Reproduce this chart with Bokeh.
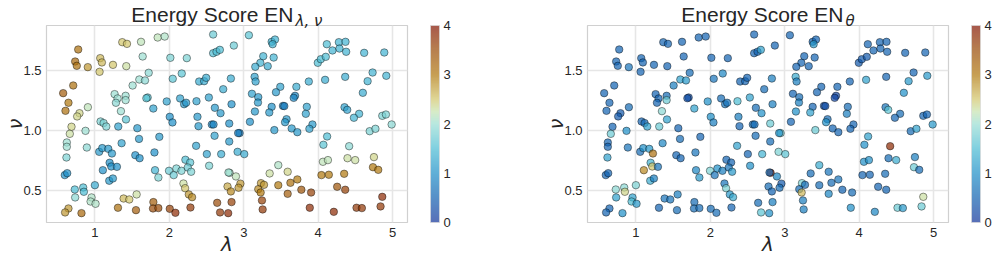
import math
from bokeh.plotting import figure
from bokeh.models import (ColumnDataSource, LinearColorMapper, ColorBar, FixedTicker,
                          Range1d, PrintfTickFormatter)
from bokeh.layouts import row
from bokeh.embed import file_html
from bokeh.resources import INLINE

# ---------------- data ----------------
lam = [
    0.776, 0.735, 0.757, 0.905, 1.072, 1.094, 1.063, 1.243, 1.422, 1.368,
    1.431, 1.620, 1.642, 1.844, 1.938, 2.589, 2.014, 2.235, 2.589, 2.634,
    2.679, 1.723, 1.597, 1.673, 1.507, 1.265, 1.413, 1.305, 1.413, 1.283,
    2.046, 2.167, 2.401, 2.468, 2.495, 2.724, 1.709, 1.692, 1.965, 2.145,
    2.199, 2.226, 2.365, 2.531, 2.612, 2.688, 0.906, 0.574, 0.709, 0.645,
    0.605, 0.793, 0.762, 1.350, 1.418, 1.076, 1.117, 1.153, 2.006, 2.042,
    2.378, 2.571, 2.594, 0.686, 1.785,
    3.069, 2.867, 3.375, 3.420, 3.388, 3.262, 3.402, 3.223, 3.155, 3.322,
    2.827, 3.146, 3.159, 3.110, 3.195, 3.191, 2.836, 3.150, 3.491, 3.433,
    3.707, 3.874, 3.689, 3.671, 3.375, 3.527, 3.545, 3.343, 3.847, 3.834,
    3.575, 3.555, 3.923, 2.805, 3.083, 3.995, 4.035, 4.102, 4.116, 4.192,
    4.278, 4.367, 4.286, 4.376, 4.618, 4.888, 4.093, 4.363, 4.731, 4.664,
    4.915, 4.600, 4.354, 4.390, 4.550, 4.480, 4.861, 4.910, 4.987,
    0.663, 0.874, 1.314, 1.570, 1.866, 1.593, 1.359, 0.623, 0.623, 0.892,
    1.058, 1.099, 1.180, 1.229, 0.618, 1.543, 1.601, 1.800, 1.198, 1.220,
    1.296, 1.107, 1.193, 1.242, 0.596, 0.628, 0.730, 0.843, 0.852, 0.735,
    1.000, 0.955, 0.942, 1.009, 0.645, 0.600, 0.820, 1.386, 1.462, 1.561,
    1.310, 1.552, 1.786, 1.781, 1.853, 2.006, 2.082, 2.284, 1.808, 1.853,
    1.996, 2.059, 2.095, 2.163, 2.216, 2.280, 2.248, 2.293, 2.535, 2.504,
    2.360, 2.697, 2.608, 2.392, 2.190, 2.212, 2.262, 2.306, 2.643, 2.682,
    2.944, 2.925, 3.411, 3.644, 3.720, 3.882, 2.805, 2.917, 3.007, 2.810,
    2.795, 2.895, 2.782, 2.827, 2.955, 2.930, 2.836, 2.791, 3.231, 3.272,
    3.195, 3.227, 3.245, 3.254, 3.348, 3.464, 3.590, 3.464, 3.627, 3.720,
    3.590, 3.774, 3.905, 3.887, 4.120, 4.070, 4.416, 4.064, 4.131, 4.394,
    4.497, 4.749, 4.736, 4.807, 4.044, 4.143, 4.349, 4.255, 4.363, 4.210,
    4.515, 4.587, 4.838, 4.861, 4.692, 4.769,
]
nu = [
    1.675, 1.575, 1.539, 1.528, 1.603, 1.567, 1.489, 1.547, 1.536, 1.736,
    1.722, 1.739, 1.617, 1.775, 1.783, 1.800, 1.606, 1.603, 1.644, 1.656,
    1.672, 1.481, 1.425, 1.417, 1.375, 1.303, 1.289, 1.267, 1.253, 1.231,
    1.431, 1.475, 1.408, 1.411, 1.439, 1.344, 1.275, 1.269, 1.242, 1.267,
    1.219, 1.231, 1.244, 1.275, 1.189, 1.144, 1.194, 1.311, 1.375, 1.231,
    1.164, 1.144, 1.117, 1.161, 1.092, 1.075, 1.062, 1.033, 1.114, 1.067,
    1.114, 1.050, 1.050, 1.031, 1.183,
    1.794, 1.708, 1.739, 1.758, 1.719, 1.619, 1.608, 1.564, 1.531, 1.536,
    1.433, 1.447, 1.408, 1.306, 1.278, 1.233, 1.219, 1.158, 1.364, 1.319,
    1.364, 1.408, 1.289, 1.272, 1.197, 1.205, 1.203, 1.150, 1.197, 1.139,
    1.094, 1.069, 1.050, 1.058, 1.072, 1.564, 1.594, 1.614, 1.719, 1.667,
    1.736, 1.739, 1.683, 1.656, 1.647, 1.650, 1.422, 1.447, 1.483, 1.411,
    1.456, 1.314, 1.194, 1.172, 1.139, 1.106, 1.122, 1.133, 1.050,
    0.972, 0.997, 1.033, 1.019, 0.947, 0.930, 0.894, 0.900, 0.864, 0.858,
    0.822, 0.853, 0.847, 0.808, 0.775, 0.794, 0.769, 0.817, 0.731, 0.700,
    0.697, 0.669, 0.581, 0.600, 0.628, 0.644, 0.508, 0.525, 0.489, 0.442,
    0.544, 0.442, 0.408, 0.389, 0.350, 0.317, 0.311, 0.433, 0.425, 0.467,
    0.356, 0.336, 0.403, 0.350, 0.353, 0.347, 0.314, 0.358, 0.669, 0.608,
    0.664, 0.628, 0.683, 0.664, 0.756, 0.733, 0.692, 0.656, 0.706, 0.803,
    0.872, 0.803, 0.956, 1.036, 0.558, 0.519, 0.467, 0.444, 0.397, 0.317,
    0.978, 0.978, 1.003, 1.017, 0.986, 1.014, 0.908, 0.822, 0.803, 0.647,
    0.650, 0.617, 0.533, 0.492, 0.557, 0.523, 0.403, 0.311, 0.561, 0.547,
    0.511, 0.483, 0.417, 0.342, 0.642, 0.711, 0.656, 0.544, 0.564, 0.592,
    0.472, 0.506, 0.483, 0.356, 0.950, 0.881, 0.869, 0.739, 0.753, 0.769,
    0.753, 0.778, 0.694, 0.672, 0.628, 0.631, 0.639, 0.531, 0.506, 0.322,
    0.356, 0.353, 0.367, 0.447, 0.994, 1.014,
]
en_lam_nu = [
    3.1, 3.2, 3.1, 2.8, 2.6, 2.6, 2.5, 2.5, 2.3, 2.5,
    2.5, 2.2, 2.0, 2.2, 2.1, 1.7, 1.8, 1.8, 1.5, 1.5,
    1.5, 1.9, 2.0, 1.9, 2.0, 2.0, 2.0, 2.0, 2.0, 1.9,
    1.6, 1.6, 1.3, 1.3, 1.3, 1.3, 1.6, 1.6, 1.2, 1.2,
    1.1, 1.1, 1.2, 1.2, 1.1, 1.1, 2.2, 3.3, 3.1, 3.0,
    3.1, 2.4, 2.4, 2.0, 1.6, 1.8, 1.8, 1.8, 1.0, 1.0,
    1.1, 0.9, 0.9, 2.4, 1.2,
    1.6, 1.7, 1.4, 1.4, 1.4, 1.4, 1.4, 1.4, 1.3, 1.3,
    1.3, 1.2, 1.2, 1.2, 1.1, 1.1, 1.0, 1.1, 1.2, 1.1,
    1.3, 1.3, 0.9, 0.9, 1.0, 0.8, 0.8, 1.1, 1.2, 1.2,
    1.1, 1.1, 1.1, 1.0, 1.0, 1.5, 1.5, 1.5, 1.5, 1.4,
    1.4, 1.4, 1.4, 1.4, 1.4, 1.4, 1.3, 1.3, 1.4, 1.4,
    1.4, 1.3, 1.2, 1.2, 1.4, 1.4, 1.8, 1.8, 1.9,
    2.3, 2.0, 1.2, 1.1, 1.1, 1.1, 1.2, 2.0, 2.0, 1.9,
    1.1, 1.1, 1.1, 1.1, 1.8, 1.0, 1.0, 1.0, 1.0, 1.0,
    1.0, 1.0, 1.1, 1.1, 1.0, 1.0, 1.5, 1.5, 1.5, 1.9,
    1.3, 2.1, 2.1, 2.1, 2.8, 2.8, 3.2, 2.6, 2.5, 2.3,
    3.1, 3.3, 3.3, 3.5, 3.5, 3.6, 3.8, 3.7, 1.4, 1.8,
    1.7, 1.7, 1.8, 1.8, 1.5, 1.6, 1.7, 1.8, 1.8, 1.2,
    1.2, 1.3, 1.2, 1.1, 2.3, 2.5, 2.8, 2.9, 3.5, 3.7,
    0.8, 0.8, 1.1, 1.1, 1.1, 1.2, 1.1, 1.3, 1.3, 2.1,
    2.0, 2.2, 2.7, 2.9, 2.8, 2.8, 3.6, 3.8, 2.8, 2.8,
    2.9, 3.0, 3.6, 3.7, 2.3, 2.1, 2.4, 3.0, 3.1, 3.0,
    3.3, 3.4, 3.6, 3.8, 1.5, 1.6, 1.9, 2.2, 2.2, 2.3,
    2.3, 2.4, 3.0, 3.0, 3.0, 3.0, 3.0, 3.4, 3.6, 3.8,
    3.7, 3.7, 3.7, 3.8, 1.8, 1.8,
]
en_theta = [
    0.5, 0.5, 0.5, 0.7, 0.5, 0.5, 0.5, 0.5, 0.5, 0.5,
    0.5, 0.5, 0.5, 0.5, 0.5, 0.5, 0.5, 0.5, 0.5, 0.5,
    1.2, 0.6, 1.2, 1.1, 0.8, 0.5, 0.6, 0.5, 1.7, 0.5,
    0.7, 0.9, 0.5, 0.5, 0.5, 0.6, 0.3, 0.3, 1.0, 0.6,
    0.7, 0.7, 1.5, 1.2, 0.6, 1.0, 0.6, 0.5, 0.5, 0.5,
    0.5, 0.4, 0.4, 1.9, 1.2, 0.5, 0.6, 1.2, 1.0, 0.8,
    0.8, 0.6, 0.6, 0.5, 1.2,
    0.5, 0.5, 0.5, 0.5, 1.1, 0.5, 0.5, 0.5, 0.5, 0.5,
    0.8, 1.3, 0.8, 0.5, 0.6, 0.8, 0.8, 1.0, 0.5, 0.5,
    0.5, 0.5, 0.2, 0.2, 0.5, 0.3, 0.3, 1.2, 0.6, 0.8,
    0.6, 1.0, 0.5, 1.7, 0.5, 0.4, 0.4, 0.4, 0.5, 0.5,
    0.5, 0.5, 0.5, 0.5, 0.5, 0.5, 1.2, 0.5, 0.5, 1.1,
    1.1, 1.0, 0.7, 1.6, 0.6, 0.5, 0.5, 0.5, 1.1,
    1.7, 1.0, 1.7, 0.5, 0.5, 0.6, 0.9, 0.5, 0.5, 0.7,
    0.6, 1.0, 1.1, 3.1, 1.2, 0.5, 0.5, 0.7, 1.4, 2.5,
    0.7, 2.9, 1.3, 0.8, 0.5, 0.5, 1.9, 1.9, 2.4, 1.2,
    1.8, 1.2, 1.5, 1.1, 0.5, 0.5, 1.0, 0.7, 0.7, 0.8,
    0.5, 0.6, 0.6, 0.6, 0.6, 0.6, 0.6, 0.5, 0.9, 1.1,
    1.8, 0.7, 1.0, 0.8, 0.5, 0.5, 0.7, 1.1, 1.0, 0.5,
    1.2, 1.4, 0.6, 0.5, 0.7, 1.8, 1.1, 1.3, 0.6, 1.6,
    1.8, 1.0, 1.7, 0.5, 0.5, 0.5, 0.6, 1.8, 1.6, 3.9,
    0.6, 0.9, 0.6, 0.5, 0.4, 0.6, 0.8, 1.0, 1.8, 0.6,
    0.6, 2.6, 0.8, 0.8, 0.6, 1.3, 0.7, 0.6, 0.6, 0.7,
    0.9, 0.5, 0.6, 1.0, 1.2, 1.0, 3.8, 1.0, 1.0, 0.6,
    1.3, 0.8, 1.7, 0.6, 0.5, 0.5, 0.6, 0.5, 0.5, 0.9,
    1.7, 1.1, 1.7, 2.3, 0.6, 1.2,
]

x_ticks = [1, 2, 3, 4, 5]
y_ticks = [0.5, 1.0, 1.5]
cbar_ticks = [0, 1, 2, 3, 4]
titles = [("Energy Score EN", "λ, ν"), ("Energy Score EN", "θ")]
x_label = "λ"
y_label = "ν"

# ---------------- colour map (roma-like, reversed) ----------------
anchors = [
    (0.0, (16, 51, 154)), (0.5, (16, 97, 176)), (1.0, (28, 142, 199)),
    (1.5, (74, 188, 211)), (2.0, (154, 222, 211)), (2.25, (199, 228, 176)),
    (2.5, (211, 199, 108)), (3.0, (176, 119, 12)), (3.5, (153, 74, 5)),
    (4.0, (131, 19, 0)),
]


def build_palette(n=256):
    pal = []
    for i in range(n):
        v = 4.0 * i / (n - 1)
        for (v0, c0), (v1, c1) in zip(anchors[:-1], anchors[1:]):
            if v0 <= v <= v1:
                t = (v - v0) / (v1 - v0)
                c = [round(a + (b - a) * t) for a, b in zip(c0, c1)]
                pal.append("#%02x%02x%02x" % tuple(c))
                break
    return pal


palette = build_palette()
TXT = "#262626"
FONT = "Liberation Sans"
MATH = "DejaVu Sans"


def make_panel(values, title_main, title_sub, main_x, left_border, right_border):
    src = ColumnDataSource(dict(lam=lam, nu=nu, en=values))
    mapper = LinearColorMapper(palette=palette, low=0, high=4)
    p = figure(frame_width=361, frame_height=197, output_backend="svg",
               toolbar_location=None, x_range=Range1d(0.35, 5.2),
               y_range=Range1d(0.233, 1.875), min_border_left=left_border,
               min_border_right=right_border, min_border_top=25,
               min_border_bottom=10, background_fill_color="white")
    p.outline_line_color = "#d0d0d0"
    p.outline_line_width = 1.2

    p.title.text = title_main
    p.title.align = "right"
    p.title.offset = 361 - main_x
    p.title.standoff = 0
    p.title.vertical_align = "bottom"
    p.title.text_font = FONT
    p.title.text_font_size = "21px"
    p.title.text_font_style = "normal"
    p.title.text_color = TXT

    for ax in (p.xaxis[0], p.yaxis[0]):
        ax.axis_line_color = None
        ax.major_tick_line_color = None
        ax.minor_tick_line_color = None
        ax.major_tick_out = 0
        ax.major_tick_in = 0
        ax.major_label_standoff = 5
        ax.major_label_text_font = FONT
        ax.major_label_text_font_size = "13px"
        ax.major_label_text_color = TXT
        ax.axis_label_text_font = MATH
        ax.axis_label_text_font_style = "italic"
        ax.axis_label_text_color = TXT
    p.xaxis.axis_label = x_label
    p.yaxis.axis_label = y_label
    p.xaxis.axis_label_text_font_size = "20px"
    p.yaxis.axis_label_text_font_size = "19px"
    p.xaxis.axis_label_standoff = -8
    p.yaxis.axis_label_standoff = -6
    p.xaxis.ticker = FixedTicker(ticks=x_ticks)
    p.yaxis.ticker = FixedTicker(ticks=y_ticks)
    p.yaxis.formatter = PrintfTickFormatter(format="%.1f")
    p.xgrid.ticker = FixedTicker(ticks=x_ticks)
    p.ygrid.ticker = FixedTicker(ticks=y_ticks)
    for g in (p.xgrid[0], p.ygrid[0]):
        g.grid_line_color = "#e6e6e6"
        g.grid_line_width = 1.6

    p.scatter("lam", "nu", source=src, size=7.5,
              fill_color={"field": "en", "transform": mapper}, fill_alpha=0.7,
              line_color="black", line_alpha=0.7, line_width=0.6)

    cb = ColorBar(color_mapper=mapper, width=9, height=197, padding=0, margin=0,
                  location=(384, 0),
                  ticker=FixedTicker(ticks=cbar_ticks), scale_alpha=0.7,
                  major_tick_line_color=None, minor_tick_line_color=None,
                  bar_line_color="#d8d8d8", bar_line_width=1,
                  background_fill_color=None, border_line_color=None,
                  major_label_text_font=FONT, major_label_text_font_size="13px",
                  major_label_text_color=TXT, label_standoff=4)
    p.add_layout(cb)

    # subscript of the title: carried by the title of an otherwise invisible
    # horizontal colour bar, which (unlike a centre Label) is not clipped
    sub = ColorBar(color_mapper=mapper, orientation="horizontal", width=1, height=1,
                   padding=0, margin=0, location=(main_x + 2, 191.5),
                   ticker=FixedTicker(ticks=[]), scale_alpha=0, bar_line_color=None,
                   major_tick_line_color=None, minor_tick_line_color=None,
                   major_tick_out=0, major_tick_in=0, label_standoff=0,
                   major_label_text_alpha=0,
                   background_fill_color=None, border_line_color=None,
                   title=title_sub, title_standoff=0,
                   title_text_font=MATH, title_text_font_style="italic",
                   title_text_font_size="15px", title_text_color=TXT)
    p.add_layout(sub)
    return p


p1 = make_panel(en_lam_nu, titles[0][0], titles[0][1], 247, 46, 101)
p2 = make_panel(en_theta, titles[1][0], titles[1][1], 256, 79, 48)
layout = row(p1, p2)
open("out.html", "w").write(file_html(layout, INLINE))
